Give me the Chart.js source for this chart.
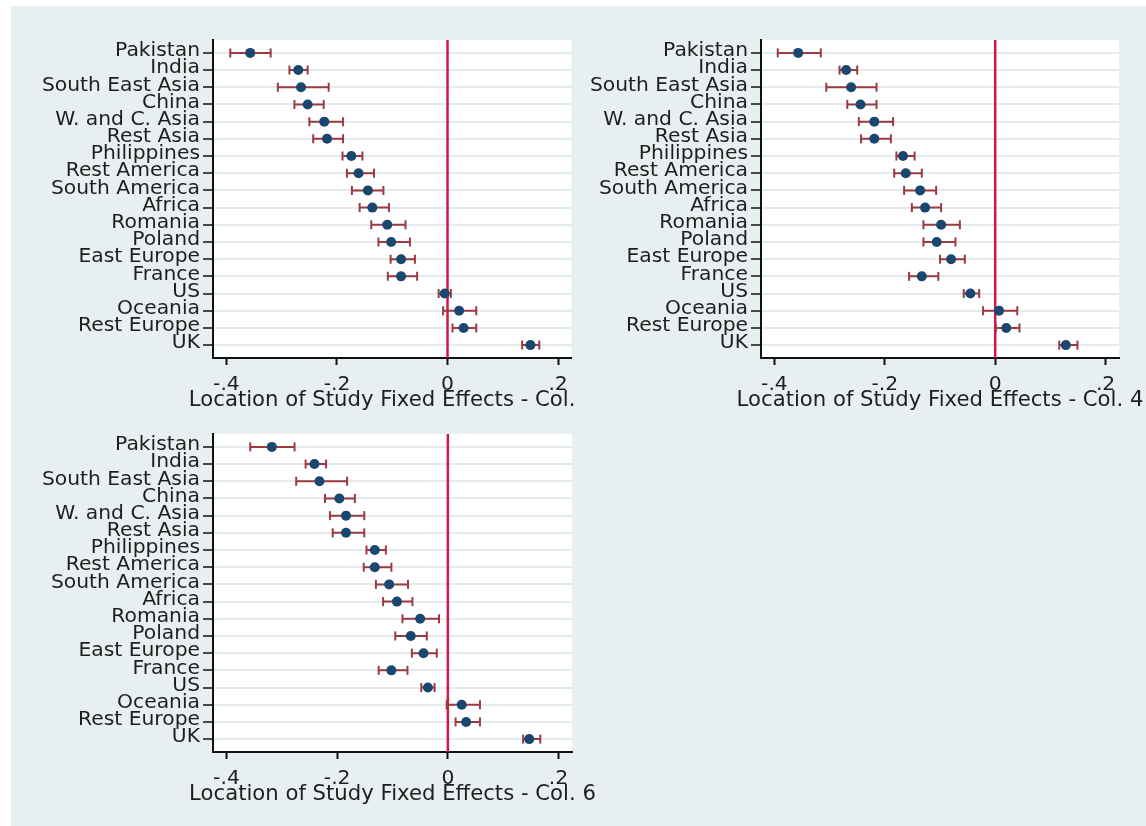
<!DOCTYPE html>
<html>
<head>
<meta charset="utf-8">
<script src="https://cdn.jsdelivr.net/npm/chart.js@4.4.1/dist/chart.umd.min.js"></script>
<style>
  html, body { margin: 0; padding: 0; background: #ffffff; }
  body { width: 1146px; height: 826px; position: relative; overflow: hidden; }
  #frame { position: absolute; left: 11px; top: 6px; right: 0; bottom: 0; background: #e8eff1; }
  canvas { position: absolute; }
  #c1 { left: 0; top: 0; }
  #c2 { left: 578px; top: 0; }
  #c3 { left: 0; top: 394px; }
</style>
</head>
<body>
<div id="frame"></div>
<canvas id="c1" width="578" height="415"></canvas>
<canvas id="c2" width="568" height="415"></canvas>
<canvas id="c3" width="620" height="415"></canvas>
<script>
// Region categories, top to bottom
const regions = ['Pakistan', 'India', 'South East Asia', 'China', 'W. and C. Asia', 'Rest Asia',
  'Philippines', 'Rest America', 'South America', 'Africa', 'Romania', 'Poland',
  'East Europe', 'France', 'US', 'Oceania', 'Rest Europe', 'UK'];

// Column 2 estimates with 95% confidence bounds
const col2Est = [-0.357, -0.270, -0.265, -0.253, -0.223, -0.218, -0.174, -0.161, -0.144, -0.136, -0.109, -0.102, -0.084, -0.084, -0.005, 0.021, 0.029, 0.150];
const col2Lo  = [-0.393, -0.286, -0.307, -0.277, -0.250, -0.243, -0.190, -0.182, -0.173, -0.159, -0.138, -0.125, -0.103, -0.108, -0.016, -0.008, 0.009, 0.135];
const col2Hi  = [-0.320, -0.253, -0.215, -0.224, -0.189, -0.189, -0.154, -0.133, -0.116, -0.106, -0.076, -0.068, -0.059, -0.055, 0.006, 0.052, 0.052, 0.166];

// Column 4 estimates with 95% confidence bounds
const col4Est = [-0.357, -0.270, -0.261, -0.244, -0.219, -0.219, -0.167, -0.162, -0.136, -0.127, -0.098, -0.106, -0.080, -0.133, -0.045, 0.007, 0.020, 0.128];
const col4Lo  = [-0.394, -0.282, -0.306, -0.268, -0.247, -0.243, -0.179, -0.183, -0.165, -0.151, -0.130, -0.130, -0.100, -0.156, -0.057, -0.022, 0.001, 0.116];
const col4Hi  = [-0.316, -0.250, -0.215, -0.215, -0.185, -0.189, -0.146, -0.133, -0.107, -0.098, -0.064, -0.072, -0.055, -0.103, -0.029, 0.040, 0.044, 0.149];

// Column 6 estimates with 95% confidence bounds
const col6Est = [-0.318, -0.241, -0.232, -0.196, -0.184, -0.184, -0.132, -0.132, -0.106, -0.092, -0.050, -0.067, -0.044, -0.102, -0.036, 0.025, 0.033, 0.147];
const col6Lo  = [-0.357, -0.257, -0.274, -0.222, -0.213, -0.208, -0.147, -0.152, -0.130, -0.117, -0.082, -0.095, -0.065, -0.125, -0.048, -0.002, 0.014, 0.136];
const col6Hi  = [-0.277, -0.220, -0.182, -0.168, -0.151, -0.151, -0.112, -0.102, -0.072, -0.064, -0.016, -0.038, -0.020, -0.073, -0.024, 0.058, 0.058, 0.167];

// Horizontal axis ticks
const xTickValues = [-0.4, -0.2, 0, 0.2];
const xTickLabels = ['-.4', '-.2', '0', '.2'];

const xMin = -0.4243, xMax = 0.2243;
const yMin = -0.75, yMax = regions.length - 0.25;

const NAVY = '#1a476f';
const MAROON = '#9b3a42';
const CRANBERRY = '#cf1846';
const TEXT = '#1e1e1e';
const FONT_FAMILY = '"DejaVu Sans", Verdana, sans-serif';

Chart.defaults.font.family = FONT_FAMILY;
Chart.defaults.font.size = 20.3;
Chart.defaults.color = TEXT;

// White plot region behind the marks
const plotBg = {
  id: 'plotBg',
  beforeDraw(chart) {
    const { ctx, chartArea: a } = chart;
    ctx.save();
    ctx.fillStyle = '#ffffff';
    ctx.fillRect(a.left, a.top, a.right - a.left, a.bottom - a.top);
    ctx.restore();
  }
};

// Horizontal-axis caption, centred under the x scale at its natural width
// (allowed to run past the plot region, as the axis titles do here)
const axisCaption = {
  id: 'axisCaption',
  afterDraw(chart, args, opts) {
    const sx = chart.scales.x;
    const { ctx } = chart;
    ctx.save();
    ctx.font = `${opts.size}px ${FONT_FAMILY}`;
    ctx.fillStyle = TEXT;
    ctx.textAlign = 'center';
    ctx.textBaseline = 'middle';
    ctx.fillText(opts.text, (sx.left + sx.right) / 2, sx.bottom - opts.offset);
    ctx.restore();
  }
};

function makePanel(canvasId, est, lo, hi, title, yAxisWidth, padRight) {
  const whiskers = [];
  const caps = [];
  regions.forEach((_, i) => {
    whiskers.push({ x: lo[i], y: i }, { x: hi[i], y: i }, { x: hi[i], y: null });
    caps.push({ x: lo[i], y: i }, { x: hi[i], y: i });
  });
  const points = est.map((v, i) => ({ x: v, y: i }));

  return new Chart(document.getElementById(canvasId), {
    type: 'scatter',
    data: {
      datasets: [
        {
          data: points, order: 1,
          pointStyle: 'circle', pointRadius: 5, pointBorderWidth: 0,
          backgroundColor: NAVY, borderColor: NAVY
        },
        {
          data: caps, order: 2,
          pointStyle: 'line', rotation: 90, pointRadius: 4.5, pointBorderWidth: 2,
          borderColor: MAROON, backgroundColor: MAROON
        },
        {
          data: whiskers, order: 3, showLine: true, spanGaps: false,
          pointRadius: 0, borderWidth: 2, borderColor: MAROON
        },
        {
          data: [{ x: 0, y: yMin }, { x: 0, y: yMax }], order: 4, showLine: true,
          pointRadius: 0, borderWidth: 2.5, borderColor: CRANBERRY
        }
      ]
    },
    options: {
      responsive: false,
      animation: false,
      events: [],
      layout: { padding: { top: 40, right: padRight, left: 0, bottom: 0 } },
      plugins: {
        legend: { display: false },
        tooltip: { enabled: false },
        axisCaption: { text: title, size: 21.2, offset: 15 }
      },
      scales: {
        x: {
          type: 'linear', min: xMin, max: xMax,
          afterBuildTicks: s => { s.ticks = xTickValues.map(v => ({ value: v })); },
          afterFit: s => { s.height = 57; },
          ticks: {
            autoSkip: false, maxRotation: 0, padding: 8, color: TEXT,
            callback: (v) => xTickLabels[xTickValues.indexOf(v)]
          },
          grid: { drawOnChartArea: false, drawTicks: true, tickLength: 7, tickWidth: 2, tickColor: '#111111' },
          border: { display: true, color: '#111111', width: 2 },
          title: { display: false }
        },
        y: {
          type: 'linear', min: yMin, max: yMax, reverse: true,
          afterBuildTicks: s => { s.ticks = regions.map((_, i) => ({ value: i })); },
          afterFit: s => { s.width = yAxisWidth; },
          ticks: {
            autoSkip: false, padding: 3, color: TEXT, labelOffset: -2,
            callback: (v) => regions[v]
          },
          grid: { color: '#e3ebee', lineWidth: 2, drawTicks: true, tickLength: 10, tickWidth: 1.5, tickColor: '#111111' },
          border: { display: true, color: '#111111', width: 2 }
        }
      }
    },
    plugins: [plotBg, axisCaption]
  });
}

makePanel('c1', col2Est, col2Lo, col2Hi, 'Location of Study Fixed Effects - Col. 2', 213, 6);
makePanel('c2', col4Est, col4Lo, col4Hi, 'Location of Study Fixed Effects - Col. 4', 183, 27);
makePanel('c3', col6Est, col6Lo, col6Hi, 'Location of Study Fixed Effects - Col. 6', 213, 48);
</script>
</body>
</html>
